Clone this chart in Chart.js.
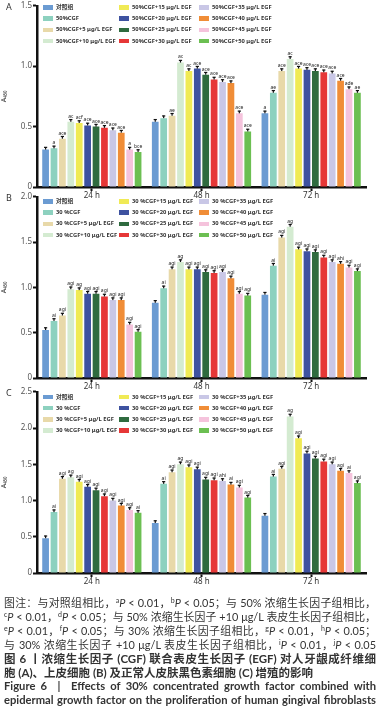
<!DOCTYPE html>
<html>
<head>
<meta charset="utf-8">
<script src="https://cdn.jsdelivr.net/npm/chart.js@4.4.0/dist/chart.umd.min.js"></script>
<style>
  body { margin: 0; background: #fff; width: 380px; height: 712px; overflow: hidden; position: relative; font-family: "Noto Sans", "Noto Sans CJK SC", sans-serif; }
  canvas { position: absolute; left: 0; }
  .plabel { position: absolute; left: 6px; font-size: 9px; color: #333; }
  .leg { position: absolute; font-size: 5.8px; color: #333; white-space: nowrap; font-weight: bold; line-height: 8px; }
  .leg i { display: inline-block; width: 10px; height: 4.5px; vertical-align: middle; margin-right: 3px; }
  #caption { position: absolute; left: 4px; top: 596px; width: 372px; color: #333; font-family: Lato, "Noto Sans CJK SC", sans-serif; font-size: 10.9px; line-height: 13.9px; }
  #caption div { white-space: nowrap; text-align: justify; text-align-last: justify; }
  #caption div.l { text-align-last: left; }
  #caption .b { font-weight: bold; font-size: 11.5px; }
  #caption sup { font-size: 7px; vertical-align: 4px; line-height: 0; }
  #caption .en { font-weight: bold; font-size: 11.2px; }
</style>
</head>
<body>
<canvas id="chartA" width="380" height="205" style="top:0px"></canvas>
<canvas id="chartB" width="380" height="205" style="top:191px"></canvas>
<canvas id="chartC" width="380" height="205" style="top:386px"></canvas>
<div class="plabel" style="top:0px">A</div>
<div class="plabel" style="top:191px">B</div>
<div class="plabel" style="top:386px">C</div>
<div id="legends"></div>
<div id="caption">
  <div>图注：与对照组相比，<sup>a</sup><i>P</i> &lt; 0.01，<sup>b</sup><i>P</i> &lt; 0.05；与 50% 浓缩生长因子组相比，</div>
  <div><sup>c</sup><i>P</i> &lt; 0.01，<sup>d</sup><i>P</i> &lt; 0.05；与 50% 浓缩生长因子 +10 μg/L 表皮生长因子组相比，</div>
  <div><sup>e</sup><i>P</i> &lt; 0.01，<sup>f</sup><i>P</i> &lt; 0.05；与 30% 浓缩生长因子组相比，<sup>g</sup><i>P</i> &lt; 0.01，<sup>h</sup><i>P</i> &lt; 0.05；</div>
  <div>与 30% 浓缩生长因子 +10 μg/L 表皮生长因子组相比，<sup>i</sup><i>P</i> &lt; 0.01，<sup>j</sup><i>P</i> &lt; 0.05</div>
  <div class="b">图 6 丨浓缩生长因子 (CGF) 联合表皮生长因子 (EGF) 对人牙龈成纤维细</div>
  <div class="b l">胞 (A)、上皮细胞 (B) 及正常人皮肤黑色素细胞 (C) 增殖的影响</div>
  <div class="en">Figure 6&nbsp;&nbsp;|&nbsp;&nbsp;Effects of 30% concentrated growth factor combined with</div>
  <div class="en">epidermal growth factor on the proliferation of human gingival fibroblasts</div>
</div>
<script>
// categories
const timeLabels = ['24 h', '48 h', '72 h'];
const groupsA = ['对照组', '50%CGF', '50%CGF+5 μg/L EGF', '50%CGF+10 μg/L EGF',
  '50%CGF+15 μg/L EGF', '50%CGF+20 μg/L EGF', '50%CGF+25 μg/L EGF', '50%CGF+30 μg/L EGF',
  '50%CGF+35 μg/L EGF', '50%CGF+40 μg/L EGF', '50%CGF+45 μg/L EGF', '50%CGF+50 μg/L EGF'];
const groupsBC = ['对照组', '30 %CGF', '30 %CGF+5 μg/L EGF', '30 %CGF+10 μg/L EGF',
  '30 %CGF+15 μg/L EGF', '30 %CGF+20 μg/L EGF', '30 %CGF+25 μg/L EGF', '30 %CGF+30 μg/L EGF',
  '30 %CGF+35 μg/L EGF', '30 %CGF+40 μg/L EGF', '30 %CGF+45 μg/L EGF', '30 %CGF+50 μg/L EGF'];
const groupColors = ['#6b9bd2', '#8dd1bf', '#e8d9a9', '#d4ebd1', '#f0ea55', '#3e52a0',
  '#2f6b3f', '#e63737', '#c9c7e6', '#f08d37', '#f5c3dc', '#6cbf52'];

// panel A values (per time point, one per group)
const a24 = [0.31, 0.32, 0.40, 0.54, 0.53, 0.51, 0.50, 0.49, 0.47, 0.45, 0.31, 0.29];
const a48 = [0.54, 0.57, 0.59, 1.03, 0.96, 0.98, 0.93, 0.89, 0.87, 0.86, 0.61, 0.46];
const a72 = [0.61, 0.78, 0.96, 1.06, 0.98, 0.97, 0.96, 0.95, 0.94, 0.88, 0.81, 0.78];
// panel B values
const b24 = [0.53, 0.63, 0.69, 0.98, 0.97, 0.93, 0.93, 0.90, 0.86, 0.86, 0.59, 0.51];
const b48 = [0.83, 0.99, 1.20, 1.28, 1.20, 1.20, 1.17, 1.16, 1.17, 1.10, 0.93, 0.91];
const b72 = [0.92, 1.24, 1.55, 1.67, 1.42, 1.40, 1.39, 1.33, 1.28, 1.26, 1.22, 1.18];
// panel C values
const c24 = [0.48, 0.84, 1.30, 1.32, 1.26, 1.19, 1.14, 1.06, 1.00, 0.93, 0.87, 0.83];
const c48 = [0.69, 1.23, 1.39, 1.50, 1.46, 1.43, 1.29, 1.28, 1.27, 1.22, 1.18, 1.04];
const c72 = [0.79, 1.33, 1.44, 2.16, 1.86, 1.65, 1.58, 1.54, 1.50, 1.41, 1.38, 1.24];

// significance letters
const sigA24 = ['', 'a', 'ace', 'ac', 'acf', 'ace', 'ace', 'ace', 'ace', 'ace', 'a', 'bce'];
const sigA48 = ['', '', 'ae', 'ac', 'ac', 'ace', 'ace', 'ace', 'ace', 'ace', 'ace', 'ace'];
const sigA72 = ['a', 'ae', 'ace', 'ac', 'ace', 'ace', 'ace', 'ace', 'ace', 'ace', 'ade', 'ae'];
const sigB24 = ['', 'ai', 'agi', 'agi', 'ag', 'agi', 'agi', 'agi', 'agi', 'agi', 'agi', 'agi'];
const sigB48 = ['', 'ai', 'agi', 'ag', 'agi', 'agi', 'agi', 'agi', 'agi', 'agi', 'agi', 'agi'];
const sigB72 = ['', 'ai', 'agi', 'ag', 'agi', 'agi', 'agi', 'agi', 'agi', 'ahi', 'agi', 'agi'];
const sigC24 = ['', 'ai', 'agi', 'ag', 'agi', 'agi', 'agi', 'agi', 'agi', 'agi', 'agi', 'ai'];
const sigC48 = ['', 'ai', 'agi', 'ag', 'agi', 'agi', 'agi', 'agi', 'ahi', 'ai', 'agi', 'agi'];
const sigC72 = ['', 'ai', 'agi', 'ag', 'agi', 'agi', 'agi', 'agi', 'agi', 'agi', 'ai', 'agi'];

// error marks + letters above bars
const marksPlugin = {
  id: 'marks',
  afterDatasetsDraw(chart, args, opts) {
    const ctx = chart.ctx;
    ctx.save();
    chart.data.datasets.forEach((ds, i) => {
      chart.getDatasetMeta(i).data.forEach((bar, j) => {
        ctx.fillStyle = '#111';
        ctx.fillRect(bar.x - 0.6, bar.y - 2.5, 1.2, 2.5);
        ctx.fillRect(bar.x - 1.6, bar.y - 2.8, 3.2, 1.2);
        const s = opts.sig[j][i];
        if (s) {
          ctx.font = '5px "Noto Sans"';
          ctx.textAlign = 'center';
          ctx.textBaseline = 'bottom';
          ctx.fillStyle = '#222';
          ctx.fillText(s, bar.x, bar.y - 3);
        }
      });
    });
    ctx.restore();
  }
};

function makePanel(id, t24, t48, t72, sigs, yMax) {
  const datasets = groupColors.map((c, i) => ({
    label: 'g' + i,
    data: [t24[i], t48[i], t72[i]],
    backgroundColor: c,
    borderWidth: 0,
    barPercentage: 0.8,
    categoryPercentage: 0.92
  }));
  return new Chart(document.getElementById(id), {
    type: 'bar',
    data: { labels: timeLabels, datasets: datasets },
    plugins: [marksPlugin],
    options: {
      responsive: false,
      animation: false,
      devicePixelRatio: 1,
      layout: { padding: { top: 5, right: 14, left: 0, bottom: 0 } },
      plugins: {
        legend: { display: false },
        tooltip: { enabled: false },
        marks: { sig: sigs }
      },
      scales: {
        x: {
          afterFit: (s) => { s.height = 18; },
          grid: { offset: false, drawOnChartArea: false, tickLength: 4, tickWidth: 2, tickColor: '#111' },
          border: { color: '#111', width: 2.5 },
          ticks: { color: '#333', font: { size: 8, family: 'Noto Sans' }, padding: 0 }
        },
        y: {
          min: 0, max: yMax,
          afterFit: (s) => { s.width = 37; },
          grid: { drawOnChartArea: false, tickLength: 4, tickWidth: 2, tickColor: '#111' },
          border: { color: '#111', width: 2.5 },
          ticks: {
            stepSize: 0.5, color: '#555', padding: 1,
            font: { size: 8, family: 'Noto Sans' },
            callback: (v) => v === 0 ? '0' : v.toFixed(1)
          },
          title: { display: true, text: 'A₄₅₀', color: '#333', font: { size: 7, family: 'Noto Sans' }, padding: 0 }
        }
      }
    }
  });
}

makePanel('chartA', a24, a48, a72, [sigA24, sigA48, sigA72], 1.5);
makePanel('chartB', b24, b48, b72, [sigB24, sigB48, sigB72], 2.0);
makePanel('chartC', c24, c48, c72, [sigC24, sigC48, sigC72], 2.5);

// legends, 3 columns x 4 rows, column-major
function makeLegend(names, top) {
  const colX = [43, 119, 199];
  const box = document.getElementById('legends');
  names.forEach((n, i) => {
    const d = document.createElement('div');
    d.className = 'leg';
    d.style.left = colX[Math.floor(i / 4)] + 'px';
    d.style.top = (top + (i % 4) * 11.2) + 'px';
    d.innerHTML = '<i style="background:' + groupColors[i] + '"></i>' + n;
    box.appendChild(d);
  });
}
makeLegend(groupsA, 3);
makeLegend(groupsBC, 197);
makeLegend(groupsBC, 392.5);
</script>
</body>
</html>
